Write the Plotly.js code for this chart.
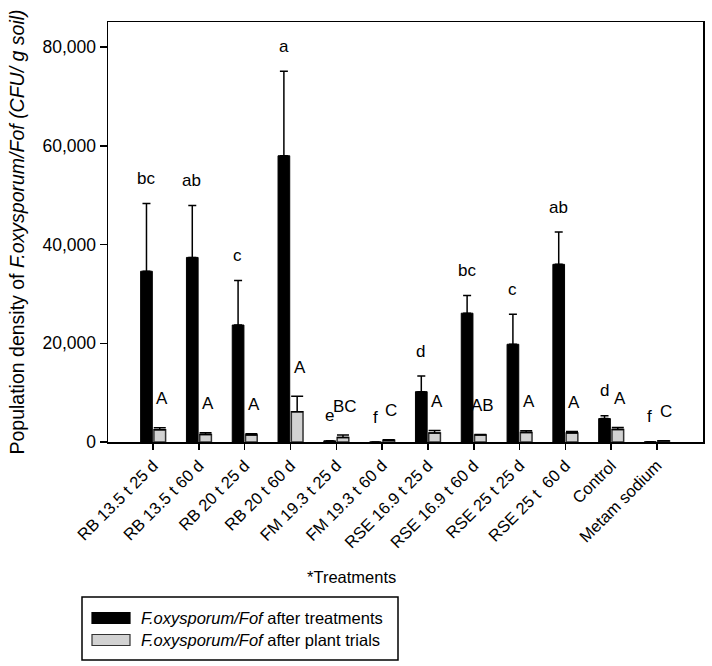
<!DOCTYPE html>
<html>
<head>
<meta charset="utf-8">
<script src="https://cdn.plot.ly/plotly-3.0.1.min.js"></script>
<style>html,body{margin:0;padding:0;background:#fff;}#chart{width:712px;height:666px;}</style>
</head>
<body>
<div id="chart"></div>
<script>
// ---- data ----
const categories = ["RB 13.5 t 25 d","RB 13.5 t 60 d","RB 20 t 25 d","RB 20 t 60 d","FM 19.3 t 25 d","FM 19.3 t 60 d","RSE 16.9 t 25 d","RSE 16.9 t 60 d","RSE 25 t 25 d","RSE 25 t\u00a0 60 d","Control","Metam sodium"];
const afterTreatments = [34600, 37400, 23700, 58000, 250, 0, 10200, 26100, 19800, 36000, 4750, 40];
const afterTreatmentsErr = [13700, 10500, 9000, 17100, null, null, 3150, 3600, 6100, 6550, 550, null];
const afterPlantTrials = [2500, 1500, 1400, 6150, 900, 350, 1800, 1400, 1900, 1800, 2550, 250];
const afterPlantTrialsErr = [400, 350, 250, 3100, 500, 100, 550, 100, 400, 350, 400, null];
const lettersTreatments = ["bc","ab","c","a","e","f","d","bc","c","ab","d","f"];
const lettersPlantTrials = ["A","A","A","A","BC","C","A","AB","A","A","A","C"];
const yTicks = [0, 20000, 40000, 60000, 80000];

// ---- layout helpers ----
const FONT = "Liberation Sans, Arial, sans-serif";
const M = {l:108, r:9, t:22, b:224};
const W = 712, H = 666;
const PW = W - M.l - M.r, PH = H - M.t - M.b;
const px = x => (x - M.l) / PW;
const py = y => (H - M.b - y) / PH;

const traces = [
  {
    type: "bar", x: categories, y: afterTreatments,
    name: "after treatments",
    marker: {color: "#000000", line: {color: "#000000", width: 1}},
    error_y: {type: "data", array: afterTreatmentsErr.map(v => v), arrayminus: afterTreatmentsErr.map(() => 0), symmetric: false, visible: true, color: "#000", thickness: 1.5, width: 4},
    showlegend: false, hoverinfo: "skip"
  },
  {
    type: "bar", x: categories, y: afterPlantTrials,
    name: "after plant trials",
    marker: {color: "#d2d2d2", line: {color: "#333333", width: 1.5}},
    error_y: {type: "data", array: afterPlantTrialsErr.map(v => v), arrayminus: afterPlantTrialsErr.map(() => 0), symmetric: false, visible: true, color: "#000", thickness: 1.5, width: 6},
    showlegend: false, hoverinfo: "skip"
  }
];

const annotations = [];
categories.forEach((c, i) => {
  annotations.push({
    xref: "x", yref: "y", x: c, y: afterTreatments[i] + (afterTreatmentsErr[i] || 0),
    text: lettersTreatments[i], showarrow: false, xshift: -7, yshift: 25,
    yanchor: "middle", font: {family: FONT, size: 17, color: "#000"}
  });
  annotations.push({
    xref: "x", yref: "y", x: c, y: afterPlantTrials[i] + (afterPlantTrialsErr[i] || 0),
    text: lettersPlantTrials[i], showarrow: false, xshift: 9, yshift: 29,
    yanchor: "middle", font: {family: FONT, size: 17, color: "#000"}
  });
});

// x-axis title
annotations.push({xref: "paper", yref: "paper", x: px(351), y: py(577), text: "*Treatments",
  showarrow: false, xanchor: "center", yanchor: "middle", font: {family: FONT, size: 16.5, color: "#000"}});

// custom legend
const legendItems = [
  {text: "<i>F.oxysporum/Fof</i> after treatments", fill: "#000000", line: "#000000", yc: 618},
  {text: "<i>F.oxysporum/Fof</i> after plant trials", fill: "#d2d2d2", line: "#333333", yc: 640}
];
const shapes = [
  {type: "rect", xref: "paper", yref: "paper", x0: px(82), x1: px(398), y0: py(597), y1: py(660),
   line: {color: "#000", width: 1.5}, fillcolor: "rgba(0,0,0,0)"}
];
legendItems.forEach(it => {
  shapes.push({type: "rect", xref: "paper", yref: "paper", x0: px(92), x1: px(130), y0: py(it.yc - 5.5), y1: py(it.yc + 5.5),
    line: {color: it.line, width: 1.2}, fillcolor: it.fill});
  annotations.push({xref: "paper", yref: "paper", x: px(139), y: py(it.yc), xanchor: "left", yanchor: "middle",
    text: it.text, showarrow: false, font: {family: FONT, size: 16.5, color: "#000"}});
});

const layout = {
  width: W, height: H,
  margin: M,
  paper_bgcolor: "#fff", plot_bgcolor: "#fff",
  font: {family: FONT, color: "#000"},
  barmode: "group", bargap: 0.42, bargroupgap: 0.12,
  xaxis: {
    type: "category", range: [-0.985, 12.005],
    showline: true, mirror: true, linecolor: "#000", linewidth: 1.5,
    ticks: "outside", ticklen: 6, tickcolor: "#000", tickwidth: 1.5,
    tickangle: -45, tickfont: {family: FONT, size: 16.5, color: "#000"},
    showgrid: false, zeroline: false, automargin: false
  },
  yaxis: {
    range: [0, 85100],
    tickvals: yTicks, tickformat: ",d",
    showline: true, mirror: true, linecolor: "#000", linewidth: 1.5,
    ticks: "outside", ticklen: 7, tickcolor: "#000", tickwidth: 1.5,
    tickfont: {family: FONT, size: 17.5, color: "#000"},
    showgrid: false, zeroline: false, automargin: false,
    title: {text: "Population density of <i>F.oxysporum/Fof (CFU/ g soil)</i>", font: {family: FONT, size: 19.5, color: "#000"}, standoff: 12}
  },
  annotations: annotations,
  shapes: shapes,
  showlegend: false
};

Plotly.newPlot("chart", traces, layout, {displayModeBar: false, staticPlot: true});
</script>
</body>
</html>
